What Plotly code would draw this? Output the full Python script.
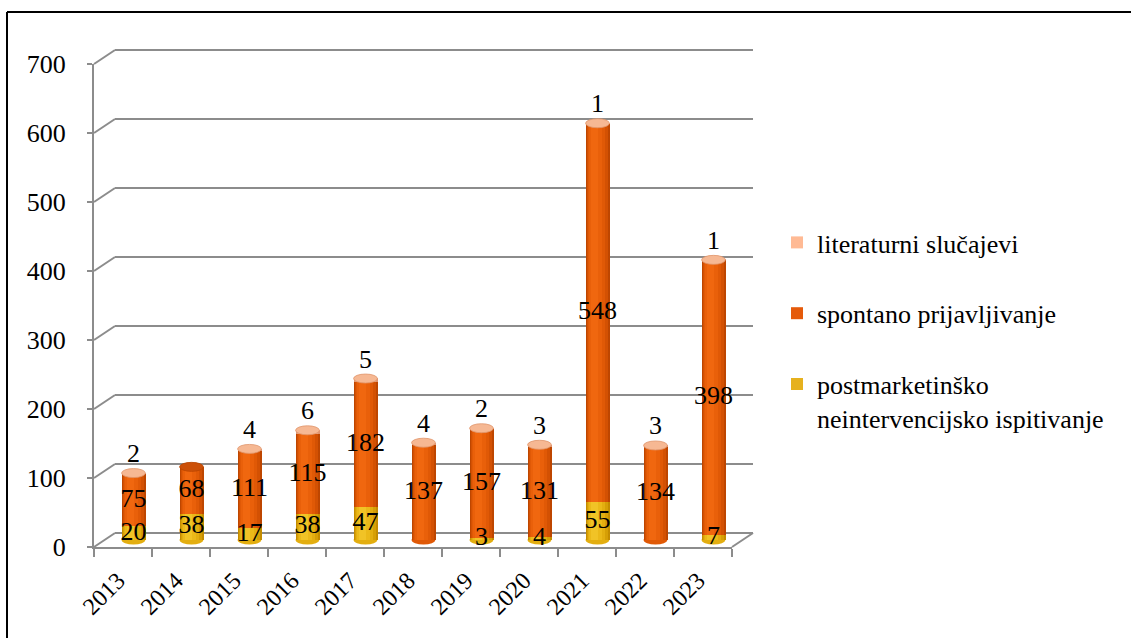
import plotly.graph_objects as go

# ---- data -------------------------------------------------------------
years = ["2013", "2014", "2015", "2016", "2017", "2018",
         "2019", "2020", "2021", "2022", "2023"]
postmarketing = [20, 38, 17, 38, 47, 0, 3, 4, 55, 0, 7]
spontaneous = [75, 68, 111, 115, 182, 137, 157, 131, 548, 134, 398]
literature = [2, 0, 4, 6, 5, 4, 2, 3, 1, 3, 1]
y_ticks = [0, 100, 200, 300, 400, 500, 600, 700]

name_lit = "literaturni slučajevi"
name_spont = "spontano prijavljivanje"
name_pm = "postmarketinško<br>neintervencijsko ispitivanje"

# ---- geometry (pixels) ------------------------------------------------
W, H = 1131, 638
FRONT_LEFT, FRONT_RIGHT = 94, 732      # front floor edge
FRONT_ZERO, FRONT_TOP = 547, 64        # pixel rows of 0 and 700 on front axis
DX, DY = 21, 14                        # depth offset of the back wall
YMAX = 700
PPU = (FRONT_ZERO - FRONT_TOP) / YMAX  # pixels per unit
BAR_W = 0.41                           # bar width (category units)
ELL = 4.5 / PPU                        # half height of cylinder cap (data units)

GRID = "#8C8C8C"
FONT = "Liberation Serif, Times New Roman, serif"


def px_x(px):
    return px / W


def px_y(py):
    return 1 - py / H


def y_domain(zero_px, lo, hi):
    return [px_y(zero_px - lo * PPU), px_y(zero_px - hi * PPU)]


# colour ramps from the shaded rim to the highlight
PAL = {
    "pm": ["#C48C00", "#D69F06", "#E3AE10", "#EBB919", "#F1C326"],
    "sp": ["#BE4600", "#D35103", "#E05906", "#E9600A", "#F0670F"],
    "lit": ["#E09470", "#EBA27D", "#F2AE88", "#F7B892", "#FAC29E"],
}
LEGEND_COL = {"pm": "#E6B11E", "sp": "#E55A0A", "lit": "#FFBA94"}

# shading layers: (width fraction, left start fraction, ramp index)
LAYERS = [(1.0, 0.0, 0), (0.86, 0.04, 1), (0.70, 0.08, 2),
          (0.52, 0.13, 3), (0.32, 0.19, 4)]

base_pm = [0] * len(years)
base_sp = postmarketing
base_lit = [a + b for a, b in zip(postmarketing, spontaneous)]
totals = [a + b for a, b in zip(base_lit, literature)]

segments = [
    ("lit", name_lit, literature, base_lit, 1),
    ("sp", name_spont, spontaneous, base_sp, 2),
    ("pm", name_pm, postmarketing, base_pm, 3),
]

fig = go.Figure()

# empty traces so the front axes and the back wall get drawn
fig.add_trace(go.Scatter(x=years, y=[None] * len(years), mode="markers",
                         xaxis="x", yaxis="y", showlegend=False,
                         hoverinfo="skip"))
fig.add_trace(go.Scatter(x=[None], y=[None], mode="markers",
                         xaxis="x2", yaxis="y2", showlegend=False,
                         hoverinfo="skip"))

for key, name, vals, base, rank in segments:
    for wf, start, ci in LAYERS:
        fig.add_trace(go.Bar(
            x=years, y=vals, base=base,
            width=BAR_W * wf, offset=-BAR_W / 2 + BAR_W * start,
            marker=dict(color=PAL[key][ci], line=dict(width=0)),
            xaxis="x3", yaxis="y3",
            showlegend=False, hoverinfo="skip",
        ))
    # legend entry
    fig.add_trace(go.Bar(
        x=[None], y=[None], name=name,
        marker=dict(color=LEGEND_COL[key], line=dict(width=0)),
        xaxis="x3", yaxis="y3",
        legendgroup=key, legendrank=rank, showlegend=True,
    ))


# data labels
def label_trace(xs, ys, texts, pos):
    return go.Scatter(
        x=xs, y=ys, text=texts, mode="text", textposition=pos,
        textfont=dict(family=FONT, size=26, color="black"),
        xaxis="x3", yaxis="y3", showlegend=False, hoverinfo="skip",
        cliponaxis=False,
    )


pm_idx = [i for i, v in enumerate(postmarketing) if v > 0]
fig.add_trace(label_trace([years[i] for i in pm_idx],
                          [postmarketing[i] / 2 for i in pm_idx],
                          [str(postmarketing[i]) for i in pm_idx], "middle center"))
fig.add_trace(label_trace(years,
                          [p + s / 2 for p, s in zip(postmarketing, spontaneous)],
                          [str(s) for s in spontaneous], "middle center"))
lit_idx = [i for i, v in enumerate(literature) if v > 0]
fig.add_trace(label_trace([years[i] for i in lit_idx],
                          [totals[i] + ELL for i in lit_idx],
                          [str(literature[i]) for i in lit_idx], "top center"))

shapes = []
# cylinder bottoms and caps
for i in range(len(years)):
    bottom_key = "pm" if postmarketing[i] > 0 else "sp"
    shapes.append(dict(
        type="circle", xref="x3", yref="y3", layer="below",
        x0=i - BAR_W / 2, x1=i + BAR_W / 2, y0=-ELL, y1=ELL,
        fillcolor=PAL[bottom_key][2], line=dict(width=0),
    ))
    if literature[i] > 0:
        cap_fill, cap_line = "#F6B893", "#E0966C"
    else:
        cap_fill, cap_line = "#CC5008", "#B84400"
    shapes.append(dict(
        type="circle", xref="x3", yref="y3", layer="above",
        x0=i - BAR_W / 2, x1=i + BAR_W / 2,
        y0=totals[i] - ELL, y1=totals[i] + ELL,
        fillcolor=cap_fill, line=dict(color=cap_line, width=0.8),
    ))

# side wall edges joining the front axis to the back wall
for v in y_ticks:
    shapes.append(dict(
        type="line", xref="paper", yref="paper",
        x0=px_x(FRONT_LEFT), y0=px_y(FRONT_ZERO - v * PPU),
        x1=px_x(FRONT_LEFT + DX), y1=px_y(FRONT_ZERO - DY - v * PPU),
        line=dict(color=GRID, width=2),
    ))
# right edge of the floor
shapes.append(dict(
    type="line", xref="paper", yref="paper",
    x0=px_x(FRONT_RIGHT), y0=px_y(FRONT_ZERO),
    x1=px_x(FRONT_RIGHT + DX), y1=px_y(FRONT_ZERO - DY),
    line=dict(color=GRID, width=2),
))
# outer frame (top and left edges)
shapes.append(dict(type="line", xref="paper", yref="paper",
                   x0=px_x(7), y0=px_y(12), x1=1, y1=px_y(12),
                   line=dict(color="black", width=2)))
shapes.append(dict(type="line", xref="paper", yref="paper",
                   x0=px_x(7), y0=0, x1=px_x(7), y1=px_y(12),
                   line=dict(color="black", width=2)))

fig.update_layout(
    width=W, height=H,
    margin=dict(l=0, r=0, t=0, b=0, autoexpand=False),
    paper_bgcolor="white", plot_bgcolor="rgba(0,0,0,0)",
    font=dict(family=FONT, size=26, color="black"),
    barmode="overlay",
    bargap=0,
    shapes=shapes,
    # front axes: tick labels and floor edge
    xaxis=dict(
        domain=[px_x(FRONT_LEFT), px_x(FRONT_RIGHT)],
        type="category", categoryorder="array", categoryarray=years,
        range=[-0.5, len(years) - 0.5], automargin=False,
        anchor="y", showgrid=False, zeroline=False,
        showline=True, linecolor=GRID, linewidth=2,
        ticks="outside", tickson="boundaries", ticklen=8,
        tickwidth=1.5, tickcolor=GRID, tickangle=-45,
        tickfont=dict(family=FONT, size=24, color="black"),
        ticklabelstandoff=8, ticklabelshift=-5,
    ),
    yaxis=dict(
        domain=y_domain(FRONT_ZERO, 0, YMAX),
        range=[0, YMAX], tickvals=y_ticks, automargin=False,
        anchor="x", showgrid=False, zeroline=False,
        showline=True, linecolor=GRID, linewidth=2,
        ticks="outside", ticklen=5, tickwidth=1.5, tickcolor=GRID,
        tickfont=dict(family=FONT, size=26, color="black"),
        ticklabelstandoff=16,
    ),
    # back wall: horizontal gridlines
    xaxis2=dict(
        domain=[px_x(FRONT_LEFT + DX), px_x(FRONT_RIGHT + DX)],
        anchor="y2", range=[0, 1], automargin=False,
        showgrid=False, zeroline=False, showline=False,
        ticks="", showticklabels=False,
    ),
    yaxis2=dict(
        domain=y_domain(FRONT_ZERO - DY, -3, YMAX + 3),
        range=[-3, YMAX + 3], tickvals=y_ticks, automargin=False,
        anchor="x2", showgrid=True, gridcolor=GRID, gridwidth=2,
        zeroline=False, showline=False, ticks="", showticklabels=False,
    ),
    # cylinders sit midway between front and back
    xaxis3=dict(
        domain=[px_x(FRONT_LEFT + DX / 2), px_x(FRONT_RIGHT + DX / 2)],
        type="category", categoryorder="array", categoryarray=years,
        range=[-0.5, len(years) - 0.5], automargin=False,
        anchor="y3", visible=False,
    ),
    yaxis3=dict(
        domain=y_domain(FRONT_ZERO - DY / 2, -20, YMAX + 20),
        range=[-20, YMAX + 20], automargin=False,
        anchor="x3", visible=False,
    ),
    legend=dict(
        x=px_x(777), y=px_y(219), xanchor="left", yanchor="top",
        font=dict(family=FONT, size=26, color="black"),
        traceorder="grouped", tracegroupgap=34, valign="top",
        bgcolor="rgba(0,0,0,0)",
    ),
)

fig.write_html("out.html")
